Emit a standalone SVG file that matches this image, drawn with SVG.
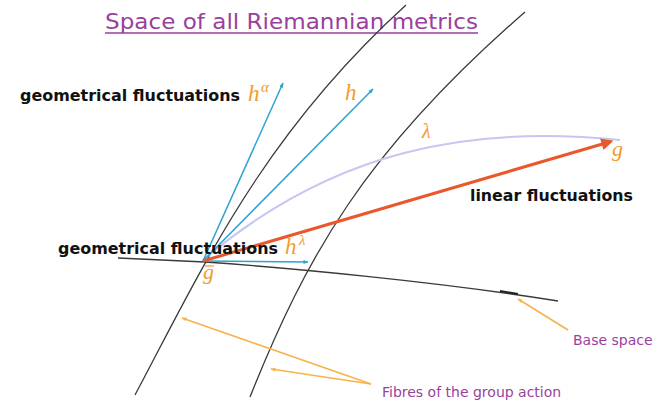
<svg xmlns="http://www.w3.org/2000/svg" width="656" height="404" viewBox="0 0 656 404">
<style>
.fibre{fill:none;stroke:#3a3a3a;stroke-width:1.3}
.blue{fill:none;stroke:#2ba3d3;stroke-width:1.5}
.ptr{fill:none;stroke:#f7b34a;stroke-width:1.6}
.bold{font-family:"DejaVu Sans",Verdana,sans-serif;font-weight:bold;font-size:15.5px;fill:#111}
.purple{font-family:"DejaVu Sans",sans-serif;font-size:14px;fill:#9a3f9e}
.math{font-family:"Liberation Serif","DejaVu Serif",serif;font-style:italic;fill:#f29b2c}
</style>
<defs>
<marker id="ab" viewBox="0 0 10 10" refX="9" refY="5" markerWidth="5" markerHeight="5" orient="auto" markerUnits="userSpaceOnUse"><path d="M0,1 L10,5 L0,9 z" fill="#2ba3d3"/></marker>
<marker id="ao" viewBox="0 0 10 10" refX="9" refY="5" markerWidth="5" markerHeight="5" orient="auto" markerUnits="userSpaceOnUse"><path d="M0,1 L10,5 L0,9 z" fill="#f7b34a"/></marker>
<marker id="ar" viewBox="0 0 10 10" refX="8" refY="5" markerWidth="14" markerHeight="12" orient="auto" markerUnits="userSpaceOnUse"><path d="M0,0 L10,5 L0,10 z" fill="#e8582a"/></marker>
</defs>

<g id="title">
<text x="105" y="29" font-family="DejaVu Sans,sans-serif" font-size="22" fill="#9a3f9e" textLength="373" lengthAdjust="spacingAndGlyphs">Space of all Riemannian metrics</text>
<line x1="105" y1="33" x2="478" y2="33" stroke="#9a3f9e" stroke-width="1.5"/>
</g>

<g id="connectors">
<path id="fibre-left" class="fibre" d="M406,5 C263,135 204,265 135,395"/>
<path id="fibre-right" class="fibre" d="M525,12 C364,152 306,257 250,397"/>
<path id="base-space" class="fibre" d="M118,258 L205,262 C290,268 440,282 558,301"/>
<path d="M500,291 L518,294" stroke="#222" stroke-width="2"/>
<path id="lambda-curve" fill="none" stroke="#c6c6f2" stroke-width="2" d="M203,260 C333,149.5 470,125 620,140"/>
<line class="blue" x1="203" y1="261" x2="283" y2="83" marker-end="url(#ab)"/>
<line class="blue" x1="203" y1="261" x2="373" y2="89" marker-end="url(#ab)"/>
<line class="blue" x1="203" y1="261" x2="308" y2="262" marker-end="url(#ab)"/>
<line x1="203" y1="261" x2="611" y2="141.5" stroke="#e8582a" stroke-width="3" marker-end="url(#ar)"/>
<line class="ptr" x1="568" y1="330" x2="518" y2="299" marker-end="url(#ao)"/>
<line class="ptr" x1="371" y1="384" x2="182" y2="318" marker-end="url(#ao)"/>
<line class="ptr" x1="371" y1="384" x2="271" y2="369" marker-end="url(#ao)"/>
</g>

<g id="label-geom-top">
<text class="bold" x="20" y="101" textLength="220" lengthAdjust="spacingAndGlyphs">geometrical fluctuations</text>
<text class="math" x="248" y="101" font-size="23">h</text>
<text class="math" x="261" y="92" font-size="15">α</text>
</g>
<g id="label-h"><text class="math" x="345" y="100" font-size="23">h</text></g>
<g id="label-lambda"><text class="math" x="422" y="138" font-size="20">λ</text></g>
<g id="label-g"><text class="math" x="612" y="156" font-size="22">g</text></g>
<g id="label-linear"><text class="bold" x="470" y="201" textLength="163" lengthAdjust="spacingAndGlyphs">linear fluctuations</text></g>
<g id="label-geom-bottom">
<text class="bold" x="58" y="254" textLength="220" lengthAdjust="spacingAndGlyphs">geometrical fluctuations</text>
<text class="math" x="285" y="254" font-size="23">h</text>
<text class="math" x="299" y="245" font-size="15">λ</text>
</g>
<g id="label-gbar">
<text class="math" x="203" y="279" font-size="22">g</text>
<line x1="205" y1="266" x2="214" y2="266" stroke="#f29b2c" stroke-width="1.2"/>
</g>
<g id="label-base"><text class="purple" x="573" y="345">Base space</text></g>
<g id="label-fibres"><text class="purple" x="382" y="397">Fibres of the group action</text></g>
</svg>
